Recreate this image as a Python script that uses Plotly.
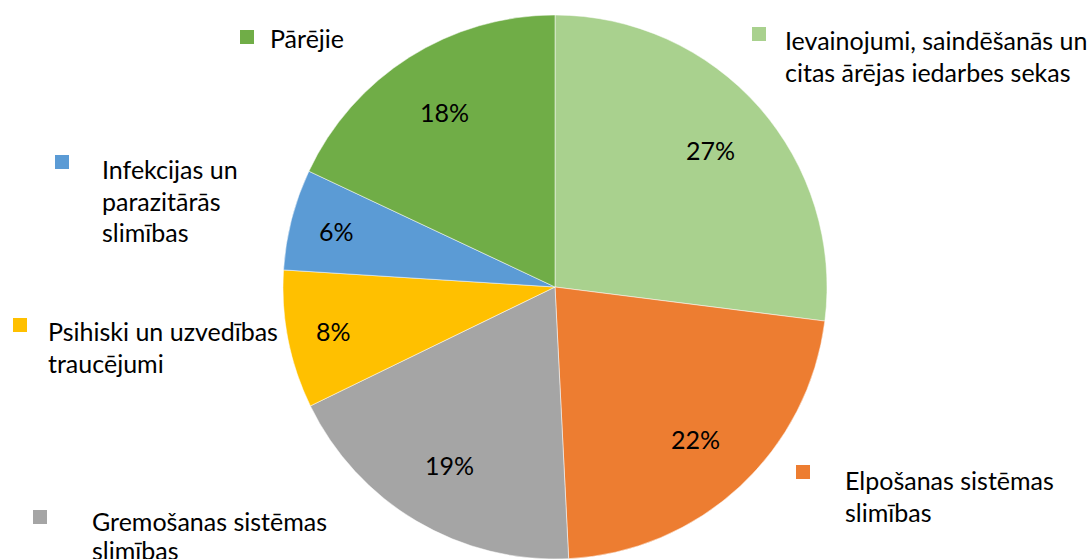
import math
import plotly.graph_objects as go

categories = ["Ievainojumi, saindēšanās un<br>citas ārējas iedarbes sekas",
              "Elpošanas sistēmas<br>slimības",
              "Gremošanas sistēmas<br>slimības",
              "Psihiski un uzvedības<br>traucējumi",
              "Infekcijas un<br>parazitārās<br>slimības",
              "Pārējie"]
values = [27.0, 22.2, 18.6, 8.2, 6.0, 18.0]
colors = ["#A9D18E", "#ED7D31", "#A5A5A5", "#FFC000", "#5B9BD5", "#70AD47"]

W, H = 1091, 559
FONT = "Lato"
FS = 25
CX, CY, R = 555, 287, 272  # pixels from top-left

fig = go.Figure(go.Pie(
    labels=categories, values=values, sort=False, direction="clockwise",
    rotation=0, marker=dict(colors=colors, line=dict(color="white", width=0.5)),
    textinfo="none", showlegend=False, hoverinfo="label+percent",
    domain=dict(x=[(CX - R) / W, (CX + R) / W], y=[1 - (CY + R) / H, 1 - (CY - R) / H]),
))

annots, shapes = [], []
# percentage labels, placed at slice mid-angle
total = sum(values)
cum = 0.0
for v in values:
    mid = (cum + v / 2) / total * 2 * math.pi
    cum += v
    frac = 0.76 if v / total > 0.1 else 0.83
    px = CX + frac * R * math.sin(mid)
    py = CY - frac * R * math.cos(mid)
    annots.append(dict(xref="paper", yref="paper", x=px / W, y=1 - py / H,
                       xanchor="center", yanchor="middle", showarrow=False,
                       text=f"{round(v / total * 100)}%",
                       font=dict(family=FONT, size=FS, color="black")))

# legend-like labels: (square left px, square top px, text left px, first line center px, line gap)
label_pos = [(752, 27, 783, 40, 31.5), (796, 465, 843, 480, 31.5), (33, 510, 90, 521, 29),
             (13, 318, 46, 331, 31.5), (55, 155, 100, 169, 31.5), (240, 30, 268, 38, 31.5)]
for cat, col, (sx, sy, tx, ty, gap) in zip(categories, colors, label_pos):
    shapes.append(dict(type="rect", xref="paper", yref="paper",
                       x0=sx / W, x1=(sx + 14) / W, y0=1 - (sy + 14) / H, y1=1 - sy / H,
                       fillcolor=col, line=dict(width=0)))
    for i, line in enumerate(cat.split("<br>")):
        annots.append(dict(xref="paper", yref="paper", x=tx / W, y=1 - (ty + i * gap) / H,
                           xanchor="left", yanchor="middle", showarrow=False, text=line,
                           font=dict(family=FONT, size=FS, color="black")))

fig.update_layout(width=W, height=H, margin=dict(l=0, r=0, t=0, b=0),
                  paper_bgcolor="white", plot_bgcolor="white",
                  shapes=shapes, annotations=annots)
fig.write_html("out.html", config={"displayModeBar": False},
               post_script="document.body.style.margin='0';document.body.style.overflow='hidden';")
